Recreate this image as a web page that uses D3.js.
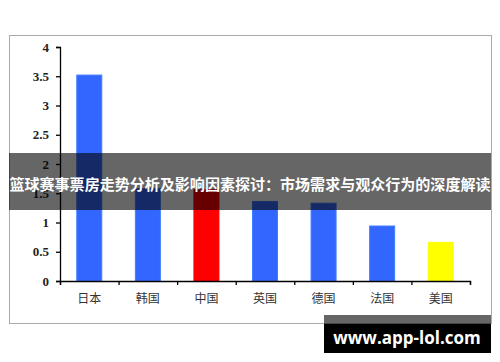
<!DOCTYPE html>
<html>
<head>
<meta charset="utf-8">
<script src="https://cdn.jsdelivr.net/npm/d3@7"></script>
<style>
  body { margin: 0; background: #fff; }
  svg { display: block; }
</style>
</head>
<body>
<svg id="chart" width="500" height="362"></svg>
<script>
// data
const countries = ['日本', '韩国', '中国', '英国', '德国', '法国', '美国'];
const values = [3.52, 1.58, 1.56, 1.36, 1.33, 0.94, 0.66];
const barColors = ['#3366ff', '#3366ff', '#ff0000', '#3366ff', '#3366ff', '#3366ff', '#ffff00'];
const yTicks = [0, 0.5, 1, 1.5, 2, 2.5, 3, 3.5, 4];
const title = '篮球赛事票房走势分析及影响因素探讨：市场需求与观众行为的深度解读';
const watermark = 'www.app-lol.com';

const svg = d3.select('#chart');

// outer frame
svg.append('rect')
    .attr('x', 9.5).attr('y', 35.5)
    .attr('width', 482).attr('height', 288)
    .attr('fill', '#fff')
    .attr('stroke', '#aaa');

const y = d3.scaleLinear().domain([0, 4]).range([281, 47]);
const x = d3.scaleLinear().domain([0, countries.length]).range([60, 470]); // category boundaries
const barW = 25;

// bars
svg.selectAll('rect.bar')
    .data(values)
    .enter().append('rect')
    .attr('class', 'bar')
    .attr('x', (d, i) => x(i + 0.5) - barW / 2)
    .attr('y', d => y(d))
    .attr('width', barW)
    .attr('height', d => y(0) - y(d))
    .attr('fill', (d, i) => barColors[i])
    .attr('stroke', (d, i) => d3.color(barColors[i]).brighter(0.6))
    .attr('stroke-width', 1);

// y axis
const yAxis = svg.append('g')
    .attr('transform', 'translate(60,0)')
    .call(d3.axisLeft(y).tickValues(yTicks).tickSize(4).tickSizeOuter(4).tickPadding(7).tickFormat(d3.format('')));
yAxis.selectAll('path, line').attr('stroke', '#000').attr('stroke-width', 1.3);
yAxis.selectAll('text')
    .attr('font-family', '"Liberation Serif", "DejaVu Serif", serif')
    .attr('font-size', 13)
    .attr('font-weight', 'bold')
    .attr('fill', '#222');

// x axis: ticks at category boundaries, labels centred
const xAxis = svg.append('g')
    .attr('transform', 'translate(0,281)')
    .call(d3.axisBottom(x).ticks(countries.length).tickSize(4).tickSizeOuter(4).tickFormat(''));
xAxis.selectAll('path, line').attr('stroke', '#000').attr('stroke-width', 1.3);

svg.selectAll('text.cat')
    .data(countries)
    .enter().append('text')
    .attr('class', 'cat')
    .attr('x', (d, i) => x(i + 0.5))
    .attr('y', 303)
    .attr('text-anchor', 'middle')
    .attr('font-family', '"Noto Sans CJK SC", sans-serif')
    .attr('font-size', 12)
    .attr('fill', '#333')
    .text(d => d);

// title band on top of the chart
svg.append('rect')
    .attr('x', 9).attr('y', 153)
    .attr('width', 482).attr('height', 57)
    .attr('fill', 'rgba(0,0,0,0.6)');
svg.append('text')
    .attr('x', 250).attr('y', 190)
    .attr('text-anchor', 'middle')
    .attr('font-family', '"Noto Sans CJK SC", sans-serif')
    .attr('font-size', 15)
    .attr('font-weight', 'bold')
    .attr('fill', '#fff')
    .attr('textLength', 481)
    .attr('lengthAdjust', 'spacingAndGlyphs')
    .text(title);

// watermark box
svg.append('rect')
    .attr('x', 324).attr('y', 315)
    .attr('width', 167).attr('height', 38)
    .attr('fill', '#000');
svg.append('rect')
    .attr('x', 324).attr('y', 315)
    .attr('width', 167).attr('height', 9)
    .attr('fill', '#666');
svg.append('line')
    .attr('x1', 324).attr('x2', 491)
    .attr('y1', 323.5).attr('y2', 323.5)
    .attr('stroke', '#444');
svg.append('text')
    .attr('x', 407).attr('y', 344)
    .attr('text-anchor', 'middle')
    .attr('font-family', '"Open Sans", "DejaVu Sans", sans-serif')
    .attr('font-size', 17)
    .attr('font-weight', 'bold')
    .attr('fill', '#fff')
    .text(watermark);
</script>
</body>
</html>
